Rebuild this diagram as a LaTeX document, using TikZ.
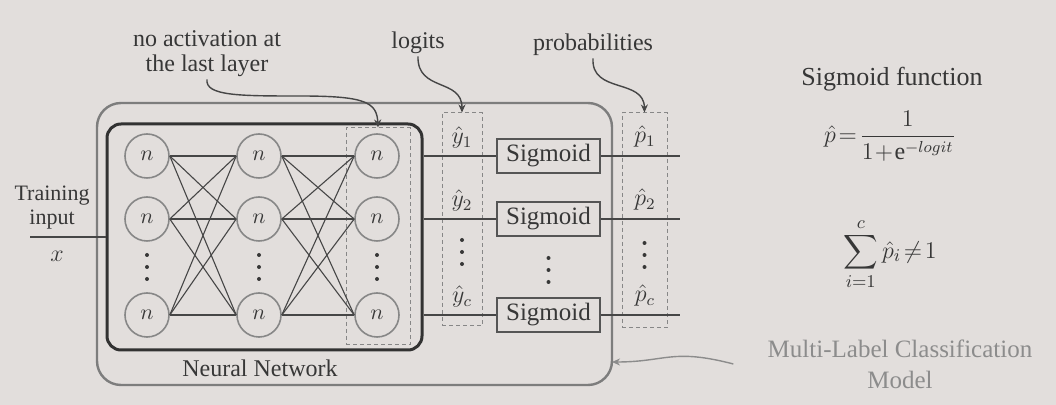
\documentclass[tikz,border=0pt]{standalone}
\usepackage{amsmath}
\usepackage{fontspec}
\setmainfont{Liberation Serif}
\usetikzlibrary{arrows.meta}
\definecolor{paper}{RGB}{226,222,220}
\definecolor{textgray}{RGB}{55,55,55}
\definecolor{innergray}{RGB}{50,50,50}
\definecolor{outergray}{RGB}{125,125,125}
\definecolor{nodegray}{RGB}{135,135,135}
\definecolor{meshgray}{RGB}{70,70,70}
\definecolor{boxgray}{RGB}{85,85,85}
\definecolor{dashgray}{RGB}{135,135,135}
\definecolor{mlgray}{RGB}{140,140,140}
\begin{document}
\begin{tikzpicture}[x=0.5pt,y=-0.5pt,
  neuron/.style={circle, draw=nodegray, line width=0.8pt, minimum size=22pt, inner sep=0pt, font=\fontsize{11}{11}\selectfont, text=textgray},
  sigbox/.style={draw=boxgray, line width=0.8pt, minimum width=51.5pt, minimum height=17pt, inner sep=0pt, font=\fontsize{12.5}{13}\selectfont, text=textgray},
  dashcol/.style={draw=dashgray, dash pattern=on 2pt off 1.5pt, line width=0.5pt, inner sep=0pt},
  mesh/.style={draw=meshgray, line width=0.55pt},
  wire/.style={draw=meshgray, line width=0.7pt},
  lbl/.style={font=\fontsize{12}{12.5}\selectfont, text=textgray, align=center, inner sep=1pt},
  callout/.style={draw=meshgray, line width=0.7pt, -{Stealth[length=4pt,width=3.5pt]}},
  dotc/.style={fill=textgray}
]
\useasboundingbox (0,0) rectangle (1056,405);
\fill[paper] (0,0) rectangle (1056,405);

% boxes
\node[draw=outergray, line width=1.2pt, rounded corners=12pt, minimum width=257.5pt, minimum height=141pt, inner sep=0pt] (outer) at (354.5,244) {};
\node[draw=innergray, line width=1.5pt, rounded corners=7pt, minimum width=157.5pt, minimum height=113pt, inner sep=0pt] (inner) at (264.5,237) {};
\node[dashcol, minimum width=32pt, minimum height=108.5pt] (l3box) at (378,236.5) {};
\node[dashcol, minimum width=20pt, minimum height=106.5pt] (lcol) at (462,219.5) {};
\node[dashcol, minimum width=22.5pt, minimum height=107.5pt] (pcol) at (644.5,220.5) {};

% neurons
\node[neuron] (a1) at (147,156) {$n$};
\node[neuron] (a2) at (147,219) {$n$};
\node[neuron] (a3) at (147,315) {$n$};
\node[neuron] (b1) at (259,156) {$n$};
\node[neuron] (b2) at (259,219) {$n$};
\node[neuron] (b3) at (259,315) {$n$};
\node[neuron] (c1) at (377,156) {$n$};
\node[neuron] (c2) at (377,219) {$n$};
\node[neuron] (c3) at (377,315) {$n$};

\foreach \i in {1,2,3}{
  \foreach \j in {1,2,3}{
    \draw[mesh] (a\i.east) -- (b\j.west);
    \draw[mesh] (b\i.east) -- (c\j.west);
  }
}

% vertical dots
\foreach \xx in {147,259,377}{
  \foreach \yy in {255,267,279}{ \fill[dotc] (\xx,\yy) circle (1pt); }
}
\foreach \yy in {240,252,264}{ \fill[dotc] (462,\yy) circle (1pt); }
\foreach \yy in {258,270,282}{ \fill[dotc] (548.5,\yy) circle (1pt); }
\foreach \yy in {243,255,267}{ \fill[dotc] (644.5,\yy) circle (1pt); }

% sigmoid boxes
\node[sigbox] (s1) at (548.5,156) {Sigmoid};
\node[sigbox] (s2) at (548.5,219) {Sigmoid};
\node[sigbox] (s3) at (548.5,315) {Sigmoid};

\coordinate (pe1) at (680,156);
\coordinate (pe2) at (680,219);
\coordinate (pe3) at (680,315);
\draw[wire] (inner.east |- c1) -- (s1.west);
\draw[wire] (inner.east |- c2) -- (s2.west);
\draw[wire] (inner.east |- c3) -- (s3.west);
\draw[wire] (s1.east) -- (pe1);
\draw[wire] (s2.east) -- (pe2);
\draw[wire] (s3.east) -- (pe3);

% logits / probabilities labels
\node[lbl] (y1) at (462,138) {$\hat{y}_1$};
\node[lbl] (y2) at (462,201) {$\hat{y}_2$};
\node[lbl] (yc) at (462,297) {$\hat{y}_c$};
\node[lbl] (p1) at (645,137) {$\hat{p}_1$};
\node[lbl] (p2) at (645,200) {$\hat{p}_2$};
\node[lbl] (pc) at (645,296) {$\hat{p}_c$};

% input
\coordinate (xin) at (30,237);
\draw[wire] (xin) -- (inner.west);
\node[lbl, font=\fontsize{11}{12}\selectfont] (tin) at (52,208) {Training\\input};
\node[lbl] (xlbl) at (57,256) {$x$};

\node[lbl] (nn) at (260,368) {Neural Network};

% top labels and callouts
\node[lbl] (nal) at (207,54) {no activation at\\the last layer};
\node[lbl] (logits) at (418,43) {logits};
\node[lbl] (prob) at (593,45) {probabilities};
\draw[callout] (nal.south) .. controls (205,96) and (240,96) .. (300,96) .. controls (365,96) and (377,102) .. (l3box.north);
\draw[callout] (logits.south) .. controls (417,92) and (462,78) .. (lcol.north);
\draw[callout] (prob.south) .. controls (591,94) and (644,78) .. (pcol.north);

% right side
\node[lbl, font=\fontsize{13}{14}\selectfont] (sf) at (892,79) {Sigmoid function};
\node[lbl, font=\fontsize{12}{13}\selectfont] (form) at (890,136) {$\hat{p}\!=\!\dfrac{1}{1\!+\!\mathrm{e}^{-logit}}$};
\node[lbl, font=\fontsize{13}{14}\selectfont] (sum) at (890,254) {$\displaystyle\sum_{i=1}^{c}\hat{p}_i\!\neq\! 1$};
\node[lbl, text=mlgray, font=\fontsize{12.5}{15.5}\selectfont] (ml) at (900,364) {Multi-Label Classification\\Model};
\coordinate (mtip) at (612,362);
\draw[callout, draw=mlgray] ([xshift=-16pt]ml.west) .. controls (672,348) and (666,362) .. (mtip);
\end{tikzpicture}
\end{document}
